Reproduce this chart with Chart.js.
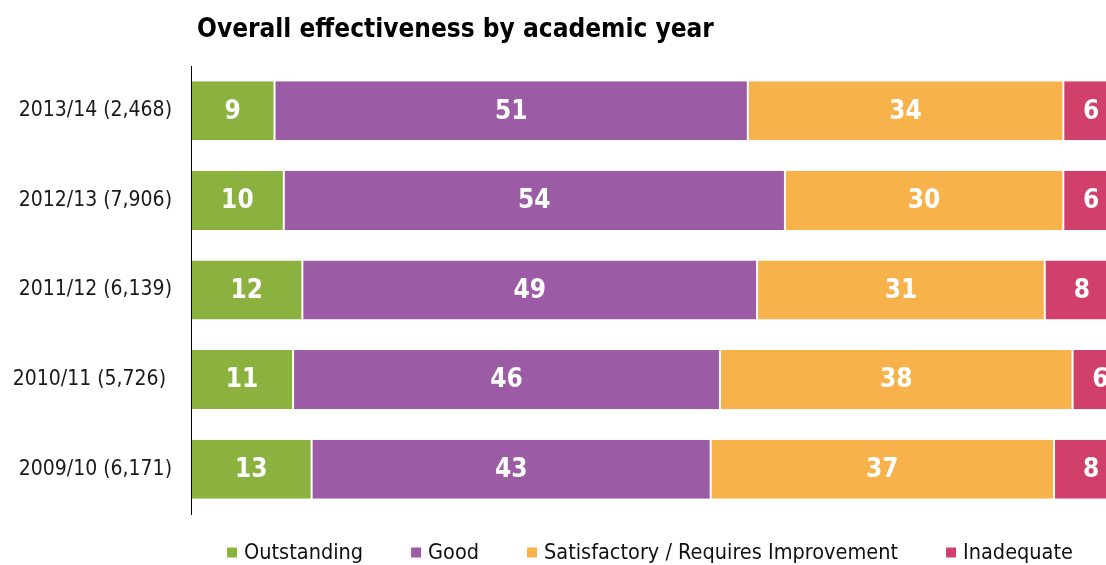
<!DOCTYPE html>
<html><head><meta charset="utf-8">
<script src="https://cdn.jsdelivr.net/npm/chart.js@4/dist/chart.umd.min.js"></script>
<style>html,body{margin:0;padding:0;background:#fff;overflow:hidden}#wrap{width:1120px;height:565px;position:relative}</style>
</head><body><div id="wrap"><canvas id="c"></canvas></div>
<script>
const chartTitle = 'Overall effectiveness by academic year';
const categories = ['2013/14 (2,468)', '2012/13 (7,906)', '2011/12 (6,139)', '2010/11 (5,726) ', '2009/10 (6,171)'];
const seriesNames = ['Outstanding', 'Good', 'Satisfactory / Requires Improvement', 'Inadequate'];
const outstanding = [9, 10, 12, 11, 13];
const good = [51, 54, 49, 46, 43];
const satisfactory = [34, 30, 31, 38, 37];
const inadequate = [6, 6, 8, 6, 8];
const seriesColors = ['#8BB13F', '#9B5BA5', '#F8B24C', '#D0406A'];

const FAM = "'DejaVu Sans Condensed', 'DejaVu Sans', sans-serif";
const seriesValues = [outstanding, good, satisfactory, inadequate];

const titlePlugin = {
  id: 'customTitle',
  afterDraw(chart) {
    const ctx = chart.ctx;
    ctx.save();
    ctx.font = 'bold 26px ' + FAM;
    ctx.fillStyle = '#000';
    ctx.textBaseline = 'alphabetic';
    ctx.textAlign = 'left';
    ctx.fillText(chartTitle, chart.chartArea.left + 6, 37);
    ctx.restore();
  }
};

const labelPlugin = {
  id: 'barLabels',
  afterDatasetsDraw(chart) {
    const ctx = chart.ctx;
    ctx.save();
    ctx.font = 'bold 26px ' + FAM;
    ctx.fillStyle = '#fff';
    ctx.textAlign = 'center';
    ctx.textBaseline = 'middle';
    chart.data.datasets.forEach((ds, di) => {
      const meta = chart.getDatasetMeta(di);
      meta.data.forEach((bar, i) => {
        const cx = (bar.x + bar.base) / 2;
        ctx.fillText(String(ds.data[i]), cx, bar.y + 1);
      });
    });
    ctx.restore();
  }
};

const legendPlugin = {
  id: 'customLegend',
  afterDraw(chart) {
    const ctx = chart.ctx;
    ctx.save();
    ctx.font = '21.5px ' + FAM;
    const box = 10, boxGap = 7, itemGap = 48;
    const widths = chart.data.datasets.map(ds => ctx.measureText(ds.label).width);
    const total = widths.reduce((a, w) => a + box + boxGap + w, 0) + itemGap * (widths.length - 1);
    const ca = chart.chartArea;
    let x = (ca.left + ca.right) / 2 - 5 - total / 2;
    const yc = 552.5;
    ctx.textBaseline = 'middle';
    ctx.textAlign = 'left';
    chart.data.datasets.forEach((ds, i) => {
      ctx.fillStyle = ds.backgroundColor;
      ctx.fillRect(x, yc - box / 2, box, box);
      ctx.fillStyle = '#111';
      ctx.fillText(ds.label, x + box + boxGap, yc + 1);
      x += box + boxGap + widths[i] + itemGap;
    });
    ctx.restore();
  }
};

new Chart(document.getElementById('c'), {
  type: 'bar',
  data: {
    labels: categories,
    datasets: seriesNames.map((name, i) => ({
      label: name,
      data: seriesValues[i],
      backgroundColor: seriesColors[i],
      borderColor: '#ffffff',
      borderWidth: {left: 1, right: 1, top: 0, bottom: 0},
      borderSkipped: false,
      barPercentage: 0.66,
      categoryPercentage: 1.0
    }))
  },
  options: {
    indexAxis: 'y',
    responsive: true,
    maintainAspectRatio: false,
    animation: false,
    events: [],
    layout: {padding: {top: 66, bottom: 51, left: 0, right: 1}},
    plugins: {
      legend: {display: false},
      title: {display: false},
      tooltip: {enabled: false}
    },
    scales: {
      x: {
        stacked: true,
        min: 0,
        max: 100,
        display: false
      },
      y: {
        stacked: true,
        grid: {display: false, drawTicks: false},
        border: {display: true, color: '#000', width: 1, z: 1},
        ticks: {
          padding: 19,
          color: '#1a1a1a',
          font: {family: FAM, size: 21}
        },
        afterFit(scale) { scale.width = 191; }
      }
    }
  },
  plugins: [titlePlugin, labelPlugin, legendPlugin]
});
</script>
</body></html>
